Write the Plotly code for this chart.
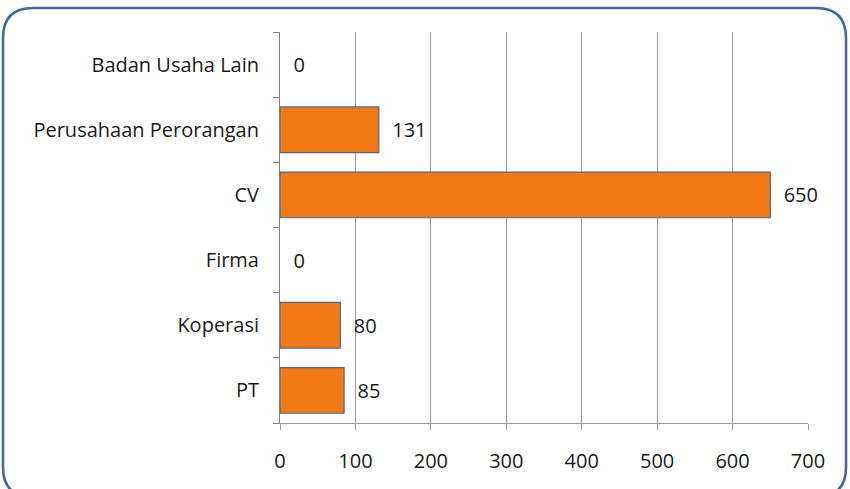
import plotly.graph_objects as go

# data
kategori = ["PT", "Koperasi", "Firma", "CV", "Perusahaan Perorangan", "Badan Usaha Lain"]
jumlah = [85, 80, 0, 650, 131, 0]
x_ticks = [0, 100, 200, 300, 400, 500, 600, 700]

fig = go.Figure()
fig.add_trace(go.Bar(
    y=kategori, x=jumlah, orientation="h",
    marker=dict(color="#F27A16",
                line=dict(color="#4A6891", width=[1.2 if v else 0 for v in jumlah])),
    width=0.7,
    text=["\u00a0\u00a0" + str(v) for v in jumlah],
    textposition="outside", cliponaxis=False,
    textfont=dict(size=20, color="#1a1a1a"),
))

fig.update_xaxes(
    range=[0, 700], tickvals=x_ticks, showgrid=True, gridcolor="#9a9a9a", gridwidth=1,
    ticks="outside", ticklen=6, tickcolor="#9a9a9a", showline=True, linecolor="#9a9a9a",
    ticklabelstandoff=14, zeroline=False,
)
fig.update_yaxes(
    type="category", categoryorder="array", categoryarray=kategori,
    tickson="boundaries", ticks="outside", ticklen=6, tickcolor="#808080",
    showline=True, linecolor="#808080", showgrid=False, ticklabelstandoff=16,
)

W, H = 850, 489
L, R, T, B = 280, 42, 32, 66
fig.update_layout(
    width=W, height=H, template=None,
    plot_bgcolor="white", paper_bgcolor="white",
    margin=dict(l=L, r=R, t=T, b=B),
    font=dict(family="Open Sans", size=20, color="#1a1a1a"),
    showlegend=False,
)

# bingkai sudut membulat (piksel -> koordinat paper)
pw, ph = W - L - R, H - T - B
def px_(x): return (x - L) / pw
def py_(y): return (H - B - y) / ph
r = 30
x0, x1, y0, y1 = 3, 846, 8, 497
path = (f"M {px_(x0+r)} {py_(y0)} L {px_(x1-r)} {py_(y0)} "
        f"Q {px_(x1)} {py_(y0)} {px_(x1)} {py_(y0+r)} L {px_(x1)} {py_(y1-r)} "
        f"Q {px_(x1)} {py_(y1)} {px_(x1-r)} {py_(y1)} L {px_(x0+r)} {py_(y1)} "
        f"Q {px_(x0)} {py_(y1)} {px_(x0)} {py_(y1-r)} L {px_(x0)} {py_(y0+r)} "
        f"Q {px_(x0)} {py_(y0)} {px_(x0+r)} {py_(y0)} Z")
fig.add_shape(type="path", xref="paper", yref="paper", path=path,
              line=dict(color="#3C69A0", width=2.5), layer="above")

fig.write_html("out.html", config={"displayModeBar": False},
               post_script="document.body.style.margin='0';")
